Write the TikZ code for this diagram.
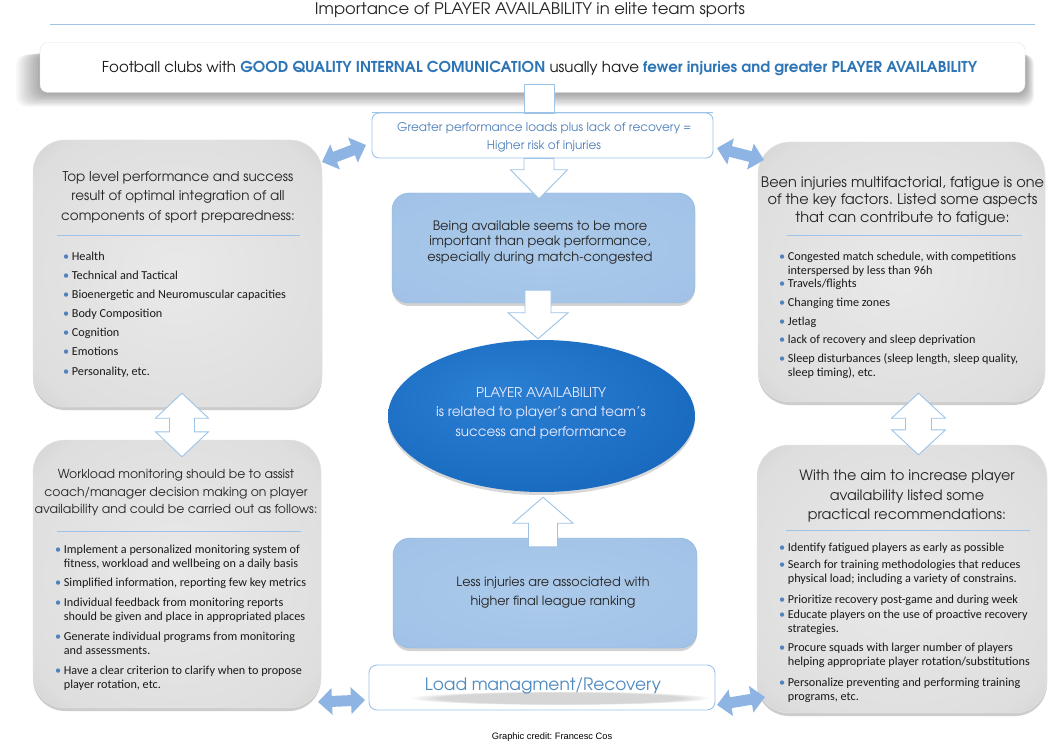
\documentclass[tikz,border=0pt]{standalone}
\usepackage[T1]{fontenc}
\usepackage{fontspec}
\usepackage{graphicx}
\setmainfont{Carlito}
\newfontfamily\arialf{Liberation Sans}
\newcommand\gothic{\fontencoding{T1}\fontfamily{pag}\selectfont}
\usetikzlibrary{arrows.meta,calc,shadows,fadings,shapes.geometric}
\frenchspacing

\definecolor{lblue}{HTML}{9DC3E6}
\definecolor{arrowblue}{HTML}{8DB4E2}
\definecolor{dblue}{HTML}{2E75B6}
\definecolor{txtblue}{HTML}{4F81BD}
\definecolor{bulc}{HTML}{4F81BD}
\definecolor{gs1}{HTML}{E9E9E9}
\definecolor{gs2}{HTML}{DEDEDE}
\definecolor{gs3}{HTML}{C4C4C4}
\definecolor{gs4}{HTML}{A2A2A2}
\definecolor{bs1}{HTML}{ABCAEB}
\definecolor{bs2}{HTML}{A2C3E7}
\definecolor{bs3}{HTML}{8FB5DF}
\definecolor{bs4}{HTML}{7FA8D6}
\definecolor{es1}{HTML}{2B80D4}
\definecolor{es2}{HTML}{1C6EC3}
\definecolor{es3}{HTML}{1262B4}
\definecolor{es4}{HTML}{0A55A6}
\pgfdeclareradialshading{greyshade}{\pgfpoint{0bp}{0bp}}{color(0bp)=(gs1); color(30bp)=(gs2); color(44bp)=(gs3); color(50bp)=(gs4)}
\pgfdeclareradialshading{blueshade}{\pgfpoint{0bp}{0bp}}{color(0bp)=(bs1); color(32bp)=(bs2); color(45bp)=(bs3); color(50bp)=(bs4)}
\pgfdeclareradialshading{ellshade}{\pgfpoint{-8bp}{8bp}}{color(0bp)=(es1); color(25bp)=(es2); color(42bp)=(es3); color(50bp)=(es4)}

\newcommand\bitem[4]{\node[bul] (#1) at (#2,#3) {\textcolor{bulc}{\textbullet}\hspace{2.6pt}\begin{tabular}[t]{@{}l@{}}#4\end{tabular}};}
\newcommand\blockarrow[5]{\path[hollow] let \p1=(#1), \p2=(#2) in (\x2-#3,\y1) -- (\x2+#3,\y1) -- (\x2+#3,\y2+#5) -- (\x2+#4,\y2+#5) -- (\x2,\y2) -- (\x2-#4,\y2+#5) -- (\x2-#3,\y2+#5) -- cycle;}
\newcommand\dblarrow[5]{\path[hollow] let \p1=(#1), \p2=(#2) in (\x1,\y1) -- (\x1+#4,\y1-#5) -- (\x1+#3,\y1-#5) -- (\x1+#3,\y2+#5) -- (\x1+#4,\y2+#5) -- (\x1,\y2) -- (\x1-#4,\y2+#5) -- (\x1-#3,\y2+#5) -- (\x1-#3,\y1-#5) -- (\x1-#4,\y1-#5) -- cycle;}

\begin{document}
\begin{tikzpicture}[x=1pt,y=-1pt,
  hdr/.style={font=\gothic\fontsize{13.5}{19.5}\selectfont, align=center, text=black!85, inner sep=0pt},
  ctr/.style={font=\gothic\fontsize{13}{15.5}\selectfont, align=center, text=black!85, inner sep=0pt},
  bul/.style={anchor=base west, inner sep=0pt, font=\fontsize{12.2}{14}\selectfont, text=black!90},
  greybox/.style={rectangle, rounded corners=32pt, shading=greyshade, draw=black!10, inner sep=0pt,
    drop shadow={shadow xshift=0pt, shadow yshift=-3pt, opacity=0.4}},
  bluebox/.style={rectangle, rounded corners=17pt, shading=blueshade, draw=bs3, inner sep=0pt,
    drop shadow={shadow xshift=0pt, shadow yshift=-3pt, opacity=0.35}},
  whitebox/.style={rectangle, rounded corners=7pt, draw=lblue, fill=white, line width=0.9pt, inner sep=0pt},
  hollow/.style={fill=white, draw=lblue, line width=0.9pt, line join=miter},
  fatarrow/.style={draw=arrowblue, line width=11pt, <->, >={Triangle[width=26pt,length=14pt]}},
  divider/.style={draw=lblue, line width=0.9pt}]
\useasboundingbox (0,0) rectangle (1052,743);
\fill[white] (0,0) rectangle (1052,743);

% title
\node[font=\gothic\fontsize{16}{18}\selectfont, text=black!85, inner sep=0pt] (title) at (530,10)
  {\resizebox{430pt}{\height}{Importance of PLAYER AVAILABILITY in elite team sports}};
\coordinate (ruleL) at (50,24.5);
\coordinate (ruleR) at (1035,24.5);
\draw[lblue, line width=1.3pt] (ruleL) -- (ruleR);

% top box with soft shadow
\foreach \i in {0,...,9}{\fill[black, opacity=0.035, rounded corners=10pt] (38-2.4*\i, 52+0.3*\i) rectangle (1027+0.8*\i, 95+1.3*\i);}
\node[rectangle, rounded corners=8pt, draw=black!10, fill=white, minimum width=985pt, minimum height=50pt, inner sep=0pt] (TB) at (532.5,67.5) {};
\node[font=\gothic\fontsize{15}{18}\selectfont, text=black!90, inner sep=0pt] (TBt) at (539.5,68)
  {\resizebox{875pt}{\height}{Football clubs with \textcolor{dblue}{\bfseries GOOD QUALITY INTERNAL COMUNICATION} usually have \textcolor{dblue}{\bfseries fewer injuries and greater PLAYER AVAILABILITY}}};

% shaft from top box to "Greater" box
\coordinate (S0) at ($(TB.south)+(6.5,-8)$);
\node[whitebox, minimum width=341pt, minimum height=45pt] (GR) at (542.5,135.5) {};
\coordinate (E0) at ($(GR.north)+(-3.5,1)$);
\path[hollow] let \p1=(S0), \p2=(E0) in (\x1-15pt,\y1) rectangle (\x1+15pt,\y2);
\draw[lblue, line width=0.9pt] (GR.north west) -- (GR.north east);
\node[font=\gothic\fontsize{12}{18}\selectfont, text=txtblue, align=center, inner sep=0pt] (GRt) at (544,137)
  {Greater performance loads plus lack of recovery =\\Higher risk of injuries};

% grey boxes
\node[greybox, minimum width=289pt, minimum height=267pt] (TL) at (177.5,273.5) {};
\node[greybox, minimum width=287pt, minimum height=260pt] (TR) at (901.5,272) {};
\node[greybox, minimum width=288pt, minimum height=268pt] (BL) at (177,574) {};
\node[greybox, minimum width=290pt, minimum height=268pt] (BR) at (902,579) {};

% top-left content
\node[hdr] (TLh) at (178,197) {Top level performance and success\\result of optimal integration of all\\components of sport preparedness:};
\draw[divider] (57,235) -- (300,235);
\bitem{tl1}{63}{260.5}{Health}
\bitem{tl2}{63}{279.5}{Technical and Tactical}
\bitem{tl3}{63}{298.5}{Bioenergetic and Neuromuscular capacities}
\bitem{tl4}{63}{317.5}{Body Composition}
\bitem{tl5}{63}{336.5}{Cognition}
\bitem{tl6}{63}{355.5}{Emotions}
\bitem{tl7}{63}{375.5}{Personality, etc.}

% top-right content
\node[hdr, font=\gothic\fontsize{14.5}{17.5}\selectfont] (TRh) at (902.5,201) {Been injuries multifactorial, fatigue is one\\of the key factors. Listed some aspects\\that can contribute to fatigue:};
\draw[divider] (787,235) -- (1022,235);
\bitem{tr1}{779}{260.5}{Congested match schedule, with competitions\\ interspersed by less than 96h}
\bitem{tr2}{779}{287.5}{Travels/flights}
\bitem{tr3}{779}{306.5}{Changing time zones}
\bitem{tr4}{779}{325.5}{Jetlag}
\bitem{tr5}{779}{343.5}{lack of recovery and sleep deprivation}
\bitem{tr6}{779}{362.5}{Sleep disturbances (sleep length, sleep quality,\\sleep timing), etc.}

% bottom-left content
\node[hdr, font=\gothic\fontsize{12.4}{17.5}\selectfont] (BLh) at (176,493) {Workload monitoring should be to assist\\coach/manager decision making on player\\availability and could be carried out as follows:};
\draw[divider] (57,531) -- (301,531);
\bitem{bl1}{55}{553.5}{Implement a personalized monitoring system of\\ fitness, workload and wellbeing on a daily basis}
\bitem{bl2}{55}{586.5}{Simplified information, reporting few key metrics}
\bitem{bl3}{55}{606.5}{Individual feedback from monitoring reports\\should be given and place in appropriated places}
\bitem{bl4}{55}{640.5}{Generate individual programs from monitoring\\and assessments.}
\bitem{bl5}{55}{674.5}{Have a clear criterion to clarify when to propose\\player rotation, etc.}

% bottom-right content
\node[hdr, font=\gothic\fontsize{14.3}{19.5}\selectfont] (BRh) at (907,496) {With the aim to increase player\\availability listed some\\practical recommendations:};
\draw[divider] (786,530) -- (1030,530);
\bitem{br1}{779}{551.5}{Identify fatigued players as early as possible}
\bitem{br2}{779}{568.5}{Search for training methodologies that reduces\\physical load; including a variety of constrains.}
\bitem{br3}{779}{603.5}{Prioritize recovery post-game and during week}
\bitem{br4}{779}{618.5}{Educate players on the use of proactive recovery\\strategies.}
\bitem{br5}{779}{651.5}{Procure squads with larger number of players\\helping appropriate player rotation/substitutions}
\bitem{br6}{779}{686.5}{Personalize preventing and performing training\\programs, etc.}

% centre column
\node[bluebox, minimum width=303pt, minimum height=110pt] (BE) at (543.5,248) {};
\coordinate (T1) at ($(BE.north)+(-4.5,6)$);
\blockarrow{GR.south}{T1}{15pt}{28.5pt}{29pt}
\node[ctr] (BEt) at (540,242) {Being available seems to be more\\important than peak performance,\\especially during match-congested};

\node[ellipse, minimum width=307pt, minimum height=152pt, inner sep=0pt, shading=ellshade,
  drop shadow={shadow xshift=0pt, shadow yshift=-3pt, opacity=0.3}] (EL) at (541.5,416) {};
\coordinate (S2) at ($(BE.south)+(-5.5,-13)$);
\coordinate (T2) at ($(EL.north)+(-3.5,-1)$);
\blockarrow{S2}{T2}{13pt}{30pt}{26pt}
\node[hdr, text=white!92!blue] (ELt) at (541,413) {PLAYER AVAILABILITY\\is related to player's and team's\\success and performance};

\node[bluebox, minimum width=304pt, minimum height=110pt] (LI) at (545,593) {};
\coordinate (S3) at ($(LI.north)+(-2,9)$);
\coordinate (T3) at ($(EL.south)+(1.5,5)$);
\blockarrow{S3}{T3}{14.5pt}{30pt}{-26pt}
\node[font=\gothic\fontsize{12.8}{19}\selectfont, align=center, text=black!85, inner sep=0pt] (LIt) at (553,593) {Less injuries are associated with\\higher final league ranking};

\node[whitebox, rounded corners=8pt, minimum width=346pt, minimum height=45pt] (LM) at (542,687.5) {};
\fill[black!45, opacity=0.35, path fading=circle with fuzzy edge 20 percent] (560,698) ellipse [x radius=150pt, y radius=7pt];
\node[font=\gothic\fontsize{17}{20}\selectfont, text=dblue!85, inner sep=0pt] (LMt) at (543,686) {Load managment/Recovery};

% vertical hollow double arrows
\coordinate (P1) at ($(TL.south)+(4.5,-14)$);
\coordinate (Q1) at ($(BL.north)+(5,17)$);
\dblarrow{P1}{Q1}{12.5pt}{26.5pt}{25pt}
\coordinate (P2) at ($(TR.south)+(17,-9)$);
\coordinate (Q2) at ($(BR.north)+(16.5,10)$);
\dblarrow{P2}{Q2}{13pt}{27pt}{25pt}

% filled diagonal double arrows
\coordinate (d1a) at (322,162); \coordinate (d1b) at (366,145);
\coordinate (d2a) at (717,148); \coordinate (d2b) at (764,160);
\coordinate (d3a) at (318,702); \coordinate (d3b) at (365,700);
\coordinate (d4a) at (717,705); \coordinate (d4b) at (765,697);
\draw[fatarrow] (d1a) -- (d1b);
\draw[fatarrow] (d2a) -- (d2b);
\draw[fatarrow] (d3a) -- (d3b);
\draw[fatarrow] (d4a) -- (d4b);

% credit
\node[font=\arialf\fontsize{9.3}{11}\selectfont, text=black, inner sep=0pt] (cred) at (552,737) {Graphic credit: Francesc Cos};
\end{tikzpicture}
\end{document}
